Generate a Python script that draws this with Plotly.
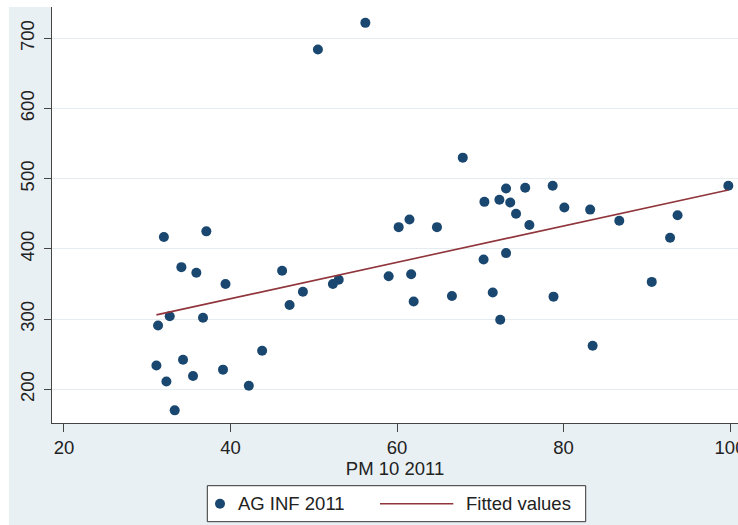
import plotly.graph_objects as go

# PM10 2011 (x) vs AG INF 2011 (y)
pm10 = [56.2, 50.5, 32.0, 37.1, 67.9, 99.8, 78.7, 75.4, 73.1, 70.5,
        72.3, 73.6, 74.3, 80.1, 83.2, 75.9, 86.7, 93.7, 92.8, 60.2,
        61.5, 64.8, 70.4, 73.1, 34.1, 35.9, 39.4, 46.2, 52.3, 53.0,
        48.7, 47.1, 31.3, 32.7, 36.7, 31.1, 32.3, 34.3, 35.5, 39.1,
        42.2, 43.8, 33.3, 59.0, 61.7, 62.0, 66.6, 71.5, 72.4, 78.8,
        83.5, 90.6]
ag_inf = [722, 684, 417, 425, 530, 490, 490, 487, 486, 467,
          470, 466, 450, 459, 456, 434, 440, 448, 416, 431,
          442, 431, 385, 394, 374, 366, 350, 369, 350, 356,
          339, 320, 291, 304, 302, 234, 211, 242, 219, 228,
          205, 255, 170, 361, 364, 325, 333, 338, 299, 332,
          262, 353]

# fitted values line
fit_x = [31.1, 99.8]
fit_y = [306, 484]

x_ticks = [20, 40, 60, 80, 100]
y_ticks = [200, 300, 400, 500, 600, 700]

series_names = ["AG INF 2011", "Fitted values"]

FONT = "Liberation Sans, Arial, sans-serif"
BG = "#E9F0F4"
NAVY = "#1A476F"
MAROON = "#90353B"

fig = go.Figure()
fig.add_trace(go.Scatter(
    x=pm10, y=ag_inf, mode="markers", name=series_names[0],
    marker=dict(color=NAVY, size=10, line=dict(width=0)),
    showlegend=False,
))
fig.add_trace(go.Scatter(
    x=fit_x, y=fit_y, mode="lines", name=series_names[1],
    line=dict(color=MAROON, width=1.6),
    showlegend=False,
))

W, H = 738, 525
L, R, T, B = 52, 0, 7, 102
pw, ph = W - L - R, H - T - B


def px(xp):
    return (xp - L) / pw


def py(yp):
    return (H - B - yp) / ph


# legend (Stata-style box below the plot)
lg_top, lg_bot = 485.7, 521.7
lg_mid = (lg_top + lg_bot) / 2
shapes = [
    dict(type="rect", xref="paper", yref="paper", layer="above",
         x0=px(0) - 0.01, x1=px(9), y0=-2, y1=2,
         fillcolor="white", line=dict(width=0)),
    dict(type="rect", xref="paper", yref="paper", layer="above",
         x0=-1, x1=2, y0=1, y1=1 + (T + 5) / ph,
         fillcolor="white", line=dict(width=0)),
    dict(type="rect", xref="paper", yref="paper", layer="above",
         x0=px(207.3), x1=px(585.7), y0=py(lg_bot), y1=py(lg_top),
         fillcolor="white", line=dict(color="#333", width=1)),
    dict(type="circle", xref="paper", yref="paper", layer="above",
         x0=px(215), x1=px(225), y0=py(lg_mid + 5), y1=py(lg_mid - 5),
         fillcolor=NAVY, line=dict(width=0)),
    dict(type="line", xref="paper", yref="paper", layer="above",
         x0=px(380), x1=px(453.3), y0=py(lg_mid), y1=py(lg_mid),
         line=dict(color=MAROON, width=1.6)),
]
annotations = [
    dict(text=series_names[0], xref="paper", yref="paper",
         x=px(235.5), y=py(lg_mid), xanchor="left", yanchor="middle",
         showarrow=False, font=dict(family=FONT, size=18.5, color="#222")),
    dict(text=series_names[1], xref="paper", yref="paper",
         x=px(463.8), y=py(lg_mid), xanchor="left", yanchor="middle",
         showarrow=False, font=dict(family=FONT, size=18.5, color="#222")),
]

fig.update_layout(
    width=W, height=H,
    margin=dict(l=L, r=R, t=T, b=B, pad=0, autoexpand=False),
    paper_bgcolor=BG, plot_bgcolor="white",
    font=dict(family=FONT, size=18.5, color="#222"),
    showlegend=False,
    xaxis=dict(
        range=[18.56, 100.96], tickvals=x_ticks,
        showgrid=False, zeroline=False, automargin=False,
        showline=True, linecolor="#444", linewidth=1,
        ticks="outside", ticklen=8, tickcolor="#444", tickwidth=1,
        ticklabeloverflow="allow",
        tickfont=dict(family=FONT, size=18.5, color="#222"),
        title=dict(text="PM 10 2011", standoff=0,
                   font=dict(family=FONT, size=18.5, color="#222")),
    ),
    yaxis=dict(
        range=[152.0, 744.6], tickvals=y_ticks, tickangle=-90,
        showgrid=True, gridcolor="#E4ECEF", gridwidth=1, zeroline=False,
        automargin=False,
        showline=True, linecolor="#444", linewidth=1,
        ticks="outside", ticklen=7, tickcolor="#444", tickwidth=1,
        ticklabelstandoff=3,
        tickfont=dict(family=FONT, size=18.5, color="#222"),
    ),
    shapes=shapes,
    annotations=annotations,
)

fig.write_html("out.html")
